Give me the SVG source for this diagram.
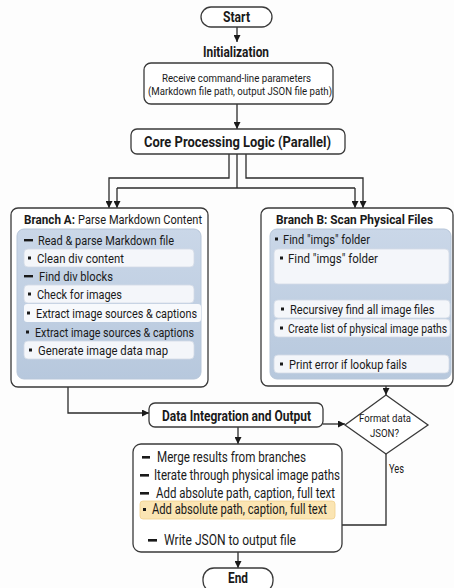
<svg xmlns="http://www.w3.org/2000/svg" width="454" height="588" viewBox="0 0 454 588">
<defs>
<style>
.t{font-family:Roboto,"Liberation Sans",Arial,sans-serif;fill:#1a1a1a}
.b{font-weight:bold}
.box{fill:#fff;stroke:#3a3a3a;stroke-width:1.3}
.panel{fill:url(#pg);stroke:#b7c6d9;stroke-width:1}
.item{fill:#f4f6fa;stroke:#d3dbe6;stroke-width:0.8}
.conn{fill:none;stroke:#2b2b2b;stroke-width:1.3}
.dash{fill:#1a1a1a}
</style>
<linearGradient id="pg" x1="0" y1="0" x2="0" y2="1">
<stop offset="0" stop-color="#cad7e8"/>
<stop offset="1" stop-color="#b7c8dd"/>
</linearGradient>
<marker id="ah" viewBox="0 0 10 10" refX="10" refY="5" markerWidth="7" markerHeight="7" markerUnits="userSpaceOnUse" orient="auto">
<path d="M0,0 L10,5 L0,10 Z" fill="#1a1a1a"/>
</marker>
</defs>
<rect width="454" height="588" fill="#fdfdfd"/>

<g id="connectors">
<path class="conn" d="M237,27 V42" marker-end="url(#ah)"/>
<path class="conn" d="M237,104 V129" marker-end="url(#ah)"/>
<path class="conn" d="M229,154 V178 H109 V208" marker-end="url(#ah)"/>
<path class="conn" d="M237,154 V188"/>
<path class="conn" d="M117,188 H355"/>
<path class="conn" d="M117,188 V208" marker-end="url(#ah)"/>
<path class="conn" d="M355,188 V208" marker-end="url(#ah)"/>
<path class="conn" d="M246,154 V178 H363 V208" marker-end="url(#ah)"/>
<path class="conn" d="M68,387 V413 H149" marker-end="url(#ah)"/>
<path class="conn" d="M323,424 H345" marker-end="url(#ah)"/>
<path class="conn" d="M386,386 V395" marker-end="url(#ah)"/>
<path class="conn" d="M238,427 V444" marker-end="url(#ah)"/>
<path class="conn" d="M386,454 V525 H342"/>
<path class="conn" d="M238,552 V568" marker-end="url(#ah)"/>
<text class="t" x="389" y="473" font-size="12" textLength="15" lengthAdjust="spacingAndGlyphs">Yes</text>
</g>

<g id="start">
<rect class="box" x="201" y="7" width="71" height="20" rx="10"/>
<text class="t b" x="223" y="22" font-size="14" textLength="27" lengthAdjust="spacingAndGlyphs">Start</text>
</g>

<g id="init-title">
<text class="t b" x="203" y="57" font-size="14" textLength="66" lengthAdjust="spacingAndGlyphs">Initialization</text>
</g>

<g id="receive">
<rect class="box" x="144" y="63" width="189" height="41" rx="7"/>
<text class="t" x="162" y="82" font-size="11.5" textLength="149" lengthAdjust="spacingAndGlyphs">Receive command-line parameters</text>
<text class="t" x="148" y="95" font-size="11.5" textLength="184" lengthAdjust="spacingAndGlyphs">(Markdown file path, output JSON file path)</text>
</g>

<g id="core">
<rect class="box" x="131" y="129" width="214" height="25" rx="6"/>
<text class="t b" x="144" y="147" font-size="15.5" textLength="187" lengthAdjust="spacingAndGlyphs">Core Processing Logic (Parallel)</text>
</g>

<g id="branchA">
<rect class="box" x="11" y="208" width="197" height="179" rx="7"/>
<text class="t b" x="24" y="224" font-size="13.5" textLength="51" lengthAdjust="spacingAndGlyphs">Branch A:</text>
<text class="t" x="78" y="224" font-size="13.5" textLength="124" lengthAdjust="spacingAndGlyphs">Parse Markdown Content</text>
<rect class="panel" x="17" y="229" width="184" height="150" rx="7"/>
<rect class="dash" x="24" y="239" width="9" height="2.4"/>
<text class="t" x="38" y="244.5" font-size="13" textLength="136" lengthAdjust="spacingAndGlyphs">Read &amp; parse Markdown file</text>
<rect class="item" x="24" y="249" width="170" height="18" rx="4"/>
<rect class="dash" x="28" y="256.5" width="3" height="3"/>
<text class="t" x="37" y="262.5" font-size="13" textLength="87" lengthAdjust="spacingAndGlyphs">Clean div content</text>
<rect class="dash" x="24" y="275" width="9" height="2.4"/>
<text class="t" x="39" y="280.5" font-size="13" textLength="74" lengthAdjust="spacingAndGlyphs">Find div blocks</text>
<rect class="item" x="24" y="285" width="170" height="18" rx="4"/>
<rect class="dash" x="28" y="292.5" width="3" height="3"/>
<text class="t" x="37" y="298.5" font-size="13" textLength="85" lengthAdjust="spacingAndGlyphs">Check for images</text>
<rect x="24" y="304" width="177" height="18" rx="3" fill="#f7f9fc"/>
<rect class="dash" x="27" y="311.5" width="3" height="3"/>
<text class="t" x="36" y="317.5" font-size="13" textLength="161" lengthAdjust="spacingAndGlyphs">Extract image sources &amp; captions</text>
<rect class="dash" x="26" y="330.5" width="3" height="3"/>
<text class="t" x="35" y="336.5" font-size="13" textLength="159" lengthAdjust="spacingAndGlyphs">Extract image sources &amp; captions</text>
<rect class="item" x="24" y="341" width="170" height="18" rx="4"/>
<rect class="dash" x="29" y="348.5" width="3" height="3"/>
<text class="t" x="38" y="354.5" font-size="13" textLength="130" lengthAdjust="spacingAndGlyphs">Generate image data map</text>
</g>

<g id="branchB">
<rect class="box" x="261" y="208" width="192" height="178" rx="7"/>
<text class="t b" x="276" y="224" font-size="13.5" textLength="157" lengthAdjust="spacingAndGlyphs">Branch B: Scan Physical Files</text>
<rect class="panel" x="270" y="229" width="181" height="150" rx="7"/>
<rect class="dash" x="275" y="237.5" width="3" height="3"/>
<text class="t" x="283" y="243.5" font-size="13" textLength="87" lengthAdjust="spacingAndGlyphs">Find "imgs" folder</text>
<rect class="item" x="274" y="249" width="175" height="35" rx="4"/>
<rect class="dash" x="280" y="256.5" width="3" height="3"/>
<text class="t" x="288" y="262.5" font-size="13" textLength="90" lengthAdjust="spacingAndGlyphs">Find "imgs" folder</text>
<rect class="item" x="274" y="300" width="176" height="18" rx="4"/>
<rect class="dash" x="281" y="307.5" width="3" height="3"/>
<text class="t" font-size="13" transform="matrix(0.85,0,0,1,290,313.5)">Recursivey find all image files</text>
<rect class="item" x="274" y="319" width="176" height="18" rx="4"/>
<rect class="dash" x="280" y="326.5" width="3" height="3"/>
<text class="t" font-size="13" transform="matrix(0.8,0,0,1,288,332.5)">Create list of physical image paths</text>
<rect class="item" x="274" y="355" width="175" height="18" rx="4"/>
<rect class="dash" x="280" y="362.5" width="3" height="3"/>
<text class="t" x="289" y="368.5" font-size="13" textLength="118" lengthAdjust="spacingAndGlyphs">Print error if lookup fails</text>
</g>

<g id="data">
<rect class="box" x="149" y="403" width="174" height="24" rx="6"/>
<text class="t b" x="162" y="420.5" font-size="14.5" textLength="149" lengthAdjust="spacingAndGlyphs">Data Integration and Output</text>
</g>

<g id="decision">
<path class="box" d="M386,395 L428,425 L386,454 L345,425 Z"/>
<text class="t" x="359" y="422" font-size="11" textLength="52" lengthAdjust="spacingAndGlyphs">Format data</text>
<text class="t" x="370" y="437" font-size="11" textLength="29" lengthAdjust="spacingAndGlyphs">JSON?</text>
</g>

<g id="output">
<rect class="box" x="133" y="444" width="209" height="108" rx="8"/>
<rect class="dash" x="142" y="456" width="8" height="2.6"/>
<text class="t" x="157" y="462" font-size="14" textLength="149" lengthAdjust="spacingAndGlyphs">Merge results from branches</text>
<rect class="dash" x="140" y="474" width="9" height="2.6"/>
<text class="t" x="154" y="480" font-size="14" textLength="186" lengthAdjust="spacingAndGlyphs">Iterate through physical image paths</text>
<rect class="dash" x="140" y="492" width="9" height="2.6"/>
<text class="t" x="156" y="498" font-size="14" textLength="179" lengthAdjust="spacingAndGlyphs">Add absolute path, caption, full text</text>
<rect x="140" y="501" width="195" height="18" rx="3" fill="#fbe5b3" stroke="#f1d18e" stroke-width="0.8"/>
<rect class="dash" x="143" y="508" width="3" height="3"/>
<text class="t" x="152" y="514" font-size="14" textLength="175" lengthAdjust="spacingAndGlyphs">Add absolute path, caption, full text</text>
<rect class="dash" x="148" y="539" width="9" height="2.6"/>
<text class="t" x="164" y="545" font-size="14" textLength="132" lengthAdjust="spacingAndGlyphs">Write JSON to output file</text>
</g>

<g id="end">
<rect class="box" x="203" y="568" width="70" height="24" rx="11"/>
<text class="t b" x="228" y="583" font-size="14" textLength="20" lengthAdjust="spacingAndGlyphs">End</text>
</g>
</svg>
